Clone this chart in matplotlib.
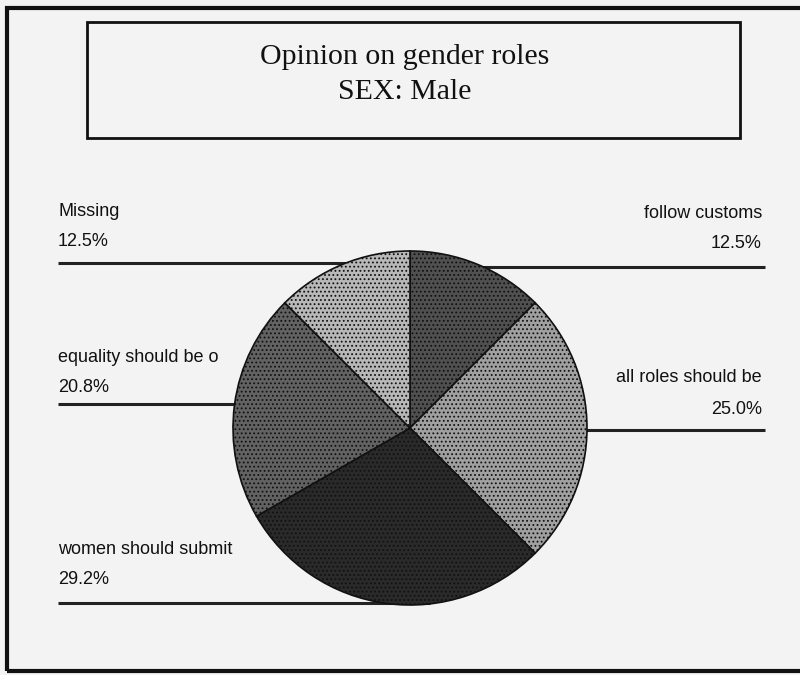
import matplotlib
matplotlib.use("Agg")
import matplotlib.pyplot as plt
from matplotlib.patches import Rectangle

# data (clockwise from 12 o'clock)
categories = ["follow customs", "all roles should be", "women should submit",
              "equality should be o", "Missing"]
percents = [12.5, 25.0, 29.2, 20.8, 12.5]
shades = ["#505050", "#a0a0a0", "#2a2a2a", "#626262", "#b8b8b8"]

title_lines = ["Opinion on gender roles", "SEX: Male"]

W, H = 800, 675
bg = "#f3f3f3"
labelfont = ["Liberation Sans Narrow", "Liberation Sans", "DejaVu Sans"]
titlefont = ["Liberation Serif", "DejaVu Serif"]


def Y(y):
    # image row -> data y
    return H - y


plt.rcParams["hatch.linewidth"] = 0.8

fig = plt.figure(figsize=(8, 6.75), dpi=100, facecolor=bg)
ax = fig.add_axes([0, 0, 1, 1])
ax.set_facecolor(bg)

# label leader lines (drawn under the pie)
# (x0, x1, y) in image pixels, one per category
leader = [(410, 765, 267), (410, 765, 430), (58, 430, 603), (58, 410, 404), (58, 410, 263)]
for x0, x1, y in leader:
    ax.plot([x0, x1], [Y(y), Y(y)], color="#222222", lw=2.2, zorder=1,
            solid_capstyle="butt")

wedges, _ = ax.pie(percents, colors=shades, startangle=90, counterclock=False,
                   center=(410, Y(428)), radius=177,
                   wedgeprops=dict(edgecolor="#111111", linewidth=1.2),
                   frame=True)
for w in wedges:
    w.set_zorder(3)
    w.set_hatch("....")

# labels: (x, y_name, y_pct, ha)
label_pos = [(762, 213, 243, "right"), (762, 378, 410, "right"),
             (58, 550, 580, "left"), (58, 357, 388, "left"), (58, 212, 242, "left")]
for cat, pct, (x, yn, yp, ha) in zip(categories, percents, label_pos):
    ax.text(x, Y(yn), cat, ha=ha, va="center", fontsize=13,
            family=labelfont, color="#111111")
    ax.text(x, Y(yp), f"{pct:.1f}%", ha=ha, va="center", fontsize=13,
            family=labelfont, color="#111111")

# title box
ax.add_patch(Rectangle((87, Y(138)), 653, 116, fill=False,
                       edgecolor="#111111", lw=2, zorder=4))
ax.text(405, Y(57), title_lines[0], ha="center", va="center", fontsize=21.5,
        family=titlefont, color="#111111")
ax.text(405, Y(92), title_lines[1], ha="center", va="center", fontsize=21.5,
        family=titlefont, color="#111111")

# outer frame of the chart
ax.add_patch(Rectangle((7, Y(671)), 900, 663, fill=False,
                       edgecolor="#111111", lw=3, zorder=5))

ax.set_xlim(0, W)
ax.set_ylim(0, H)
ax.set_aspect("equal")
ax.axis("off")

fig.savefig("out.png", dpi=100, facecolor=bg)
